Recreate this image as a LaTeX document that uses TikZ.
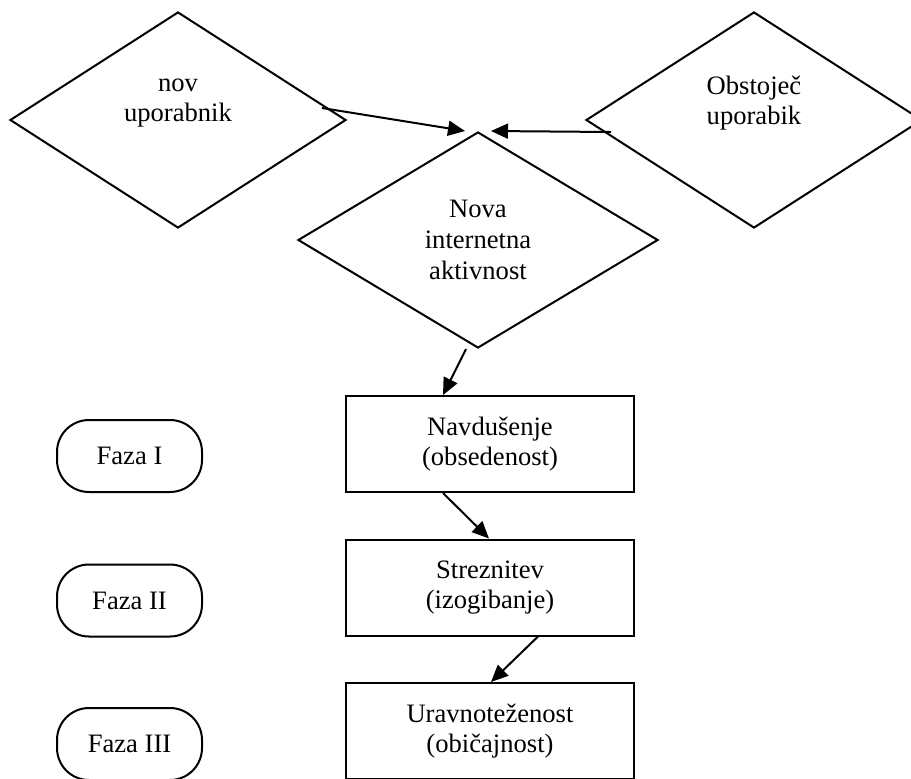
\documentclass[tikz,border=0pt]{standalone}
\usepackage{fontspec}
\setmainfont{Liberation Serif}
\usetikzlibrary{arrows.meta,shapes.geometric}

\begin{document}
\begin{tikzpicture}[x=0.5pt,y=-0.5pt,
		font=\fontsize{13.3}{15.4}\selectfont,
		line width=1pt,
		odl/.style={diamond,draw,inner sep=0pt,minimum width=168pt,minimum height=108pt},
		napis/.style={align=center,inner sep=0pt},
		korak/.style={draw,align=center,minimum width=144pt,minimum height=48pt},
		faza/.style={draw,rounded corners=16pt,minimum width=72.5pt,minimum height=36pt},
		>={Triangle[length=8.5pt,width=7.5pt]}]
		\useasboundingbox (0,0) rectangle (911,778);
		\clip (0,0) rectangle (911,778);
		\coordinate (N) at (178,120);
		\coordinate (O) at (754,120);
		\coordinate (I) at (478,240);
		\coordinate (K1) at (490,444);
		\coordinate (K2) at (490,587.5);
		\coordinate (K3) at (490,731);
		\node[odl] (nov) at (N) {};
		\node[napis] (novT) at ([shift={(0,-17)}]N) {nov\\uporabnik};
		\node[odl] (obs) at (O) {};
		\node[napis] (obsT) at ([shift={(0,-17)}]O) {Obstoječ\\uporabik};
		\node[odl,minimum width=180pt,align=center] (akt) at (I) {Nova\\internetna\\aktivnost};
		\node[korak] (nav) at (K1) {Navdušenje\\(obsedenost)};
		\node[korak] (str) at (K2) {Streznitev\\(izogibanje)};
		\node[korak] (ura) at (K3) {Uravnoteženost\\(običajnost)};
		\node[faza] (f1) at (129.5,456) {Faza I};
		\node[faza] (f2) at (129.5,600.5) {Faza II};
		\node[faza] (f3) at (129.5,744) {Faza III};
		\draw[->] ([shift={(144,-12)}]nov.center) -- ([shift={(-13,0)}]akt.north);
		\draw[->] ([shift={(-143,12)}]obs.center) -- ([shift={(13,0)}]akt.north);
		\draw[->] ([shift={(-12,0)}]akt.south) -- ([shift={(-47,0)}]nav.north);
		\draw[->] ([shift={(-47,0)}]nav.south) -- ([shift={(-1,0)}]str.north);
		\draw[->] ([shift={(48,0)}]str.south) -- ([shift={(1,0)}]ura.north);
	\end{tikzpicture}
\end{document}
